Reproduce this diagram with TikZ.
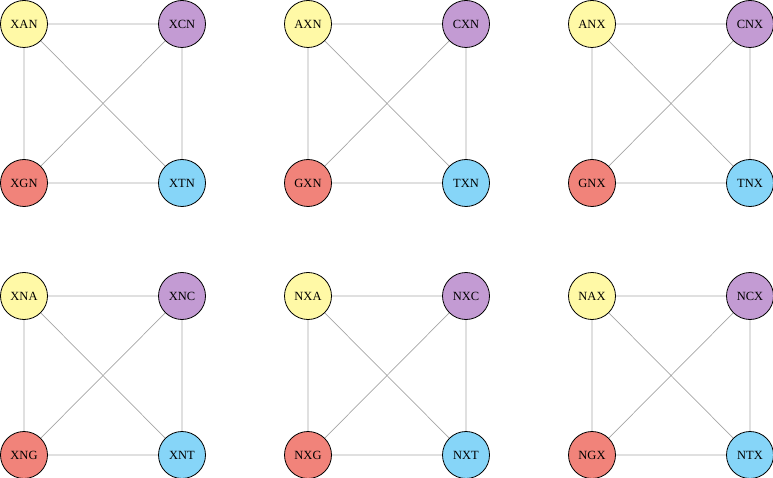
\documentclass[tikz,border=0pt]{standalone}
\usepackage{fontspec}
\setmainfont{Liberation Serif}
\definecolor{cy}{HTML}{FFF9A6}
\definecolor{cp}{HTML}{C39BD3}
\definecolor{cr}{HTML}{F1837A}
\definecolor{cb}{HTML}{86D5F8}
\begin{document}
\begin{tikzpicture}[x=1pt,y=-1pt,
  nd/.style={circle,draw=black,line width=0.8pt,minimum size=47pt,inner sep=0pt,font=\fontsize{12.5}{14}\selectfont},
  ed/.style={draw=gray!70,line width=0.7pt}]
\useasboundingbox (0,0) rectangle (773,478);
\foreach \gx/\gy/\a/\c/\g/\t [count=\i] in {
  24/24/XAN/XCN/XGN/XTN, 308/24/AXN/CXN/GXN/TXN, 592/24/ANX/CNX/GNX/TNX,
  24/296/XNA/XNC/XNG/XNT, 308/296/NXA/NXC/NXG/NXT, 592/296/NAX/NCX/NGX/NTX}{
  \begin{scope}[shift={(\gx,\gy)}]
  \coordinate (a\i) at (0,0); \coordinate (c\i) at (158,0);
  \coordinate (g\i) at (0,159); \coordinate (t\i) at (158,159);
  \path[ed] (a\i)--(c\i) (a\i)--(g\i) (a\i)--(t\i) (c\i)--(g\i) (c\i)--(t\i) (g\i)--(t\i);
  \node[nd,fill=cy] (na\i) at (a\i) {\a};
  \node[nd,fill=cp] (nc\i) at (c\i) {\c};
  \node[nd,fill=cr] (ng\i) at (g\i) {\g};
  \node[nd,fill=cb] (nt\i) at (t\i) {\t};
  \end{scope}}
\end{tikzpicture}
\end{document}
